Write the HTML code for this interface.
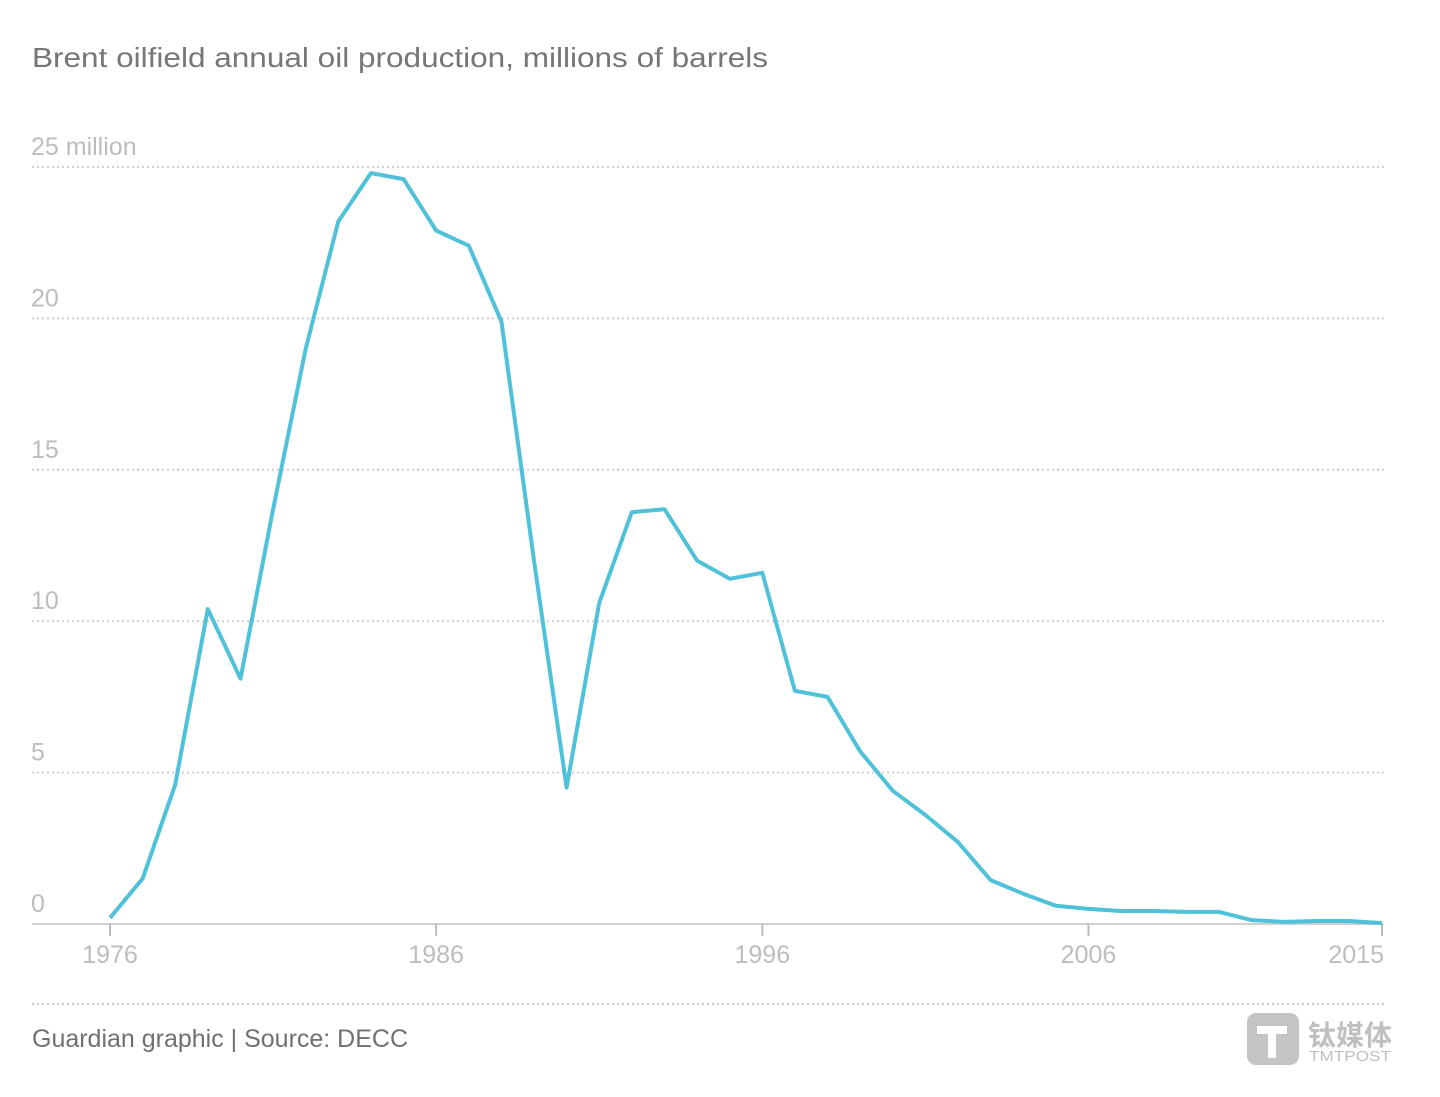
<!DOCTYPE html>
<html><head><meta charset="utf-8"><style>
body{margin:0;background:#fff;width:1440px;height:1092px;overflow:hidden;font-family:"Liberation Sans","Noto Sans CJK SC",sans-serif}
</style></head><body>
<svg id="chart" width="1440" height="1092" xmlns="http://www.w3.org/2000/svg">
<text x="32" y="67" font-size="28" fill="#767676" textLength="736" lengthAdjust="spacingAndGlyphs">Brent oilfield annual oil production, millions of barrels</text>
<g id="grid"></g>
<g id="xaxis"></g>
<path id="line" fill="none" stroke="#4fc1d9" stroke-width="4" stroke-linejoin="round"/>
<line x1="32" y1="1004" x2="1384" y2="1004" stroke="#c8c8c8" stroke-width="2" stroke-dasharray="2,3"/>
<text x="32" y="1047" font-size="25" fill="#707070" textLength="376" lengthAdjust="spacingAndGlyphs">Guardian graphic | Source: DECC</text>
<g>
<rect x="1247" y="1013" width="52" height="52" rx="9" fill="#c4c4c4"/>
<path d="M1257 1026 h30 v8 h-11 v24 h-8 v-24 h-11z" fill="#fff"/>
<text x="1308" y="1045" font-size="28" fill="#c0c0c0" font-family="Noto Sans CJK SC, sans-serif" font-weight="bold">钛媒体</text>
<text x="1309" y="1061" font-size="15" fill="#c0c0c0" textLength="82" lengthAdjust="spacingAndGlyphs">TMTPOST</text>
</g>
</svg>
<script>
const years=[1976,1977,1978,1979,1980,1981,1982,1983,1984,1985,1986,1987,1988,1989,1990,1991,1992,1993,1994,1995,1996,1997,1998,1999,2000,2001,2002,2003,2004,2005,2006,2007,2008,2009,2010,2011,2012,2013,2014,2015];
const production=[0.2,1.5,4.6,10.4,8.1,13.7,19.0,23.2,24.8,24.6,22.9,22.4,19.9,12.0,4.5,10.6,13.6,13.7,12.0,11.4,11.6,7.7,7.5,5.7,4.4,3.6,2.7,1.45,1.0,0.6,0.5,0.43,0.43,0.4,0.4,0.13,0.07,0.1,0.1,0.03];
const yTicks=[0,5,10,15,20,25];
const yTickLabels=["0","5","10","15","20","25 million"];
const xTicks=[1976,1986,1996,2006,2015];
const NS="http://www.w3.org/2000/svg";
const x=v=>110+(v-1976)*(1382-110)/39;
const y=v=>924-v*(924-167)/25;
function mk(tag,attrs,parent){const e=document.createElementNS(NS,tag);for(const k in attrs)e.setAttribute(k,attrs[k]);parent.appendChild(e);return e;}
const grid=document.getElementById('grid');
yTicks.forEach((t,i)=>{
  if(t>0){const l=mk('line',{x1:32,x2:1384,y1:y(t),y2:y(t),stroke:'#cfcfcf','stroke-width':2,'stroke-dasharray':'2,3'},grid);
  
  }
  const tx=mk('text',{x:31,y:y(t)-12,'font-size':25,fill:'#bdbdbd'},grid);
  
  
  tx.textContent=yTickLabels[i];
});
const xa=document.getElementById('xaxis');
const base=mk('line',{x1:32,x2:1384,y1:924,y2:924,stroke:'#d0d0d0','stroke-width':2},xa);


xTicks.forEach(t=>{
  const tk=mk('line',{x1:x(t),x2:x(t),y1:924,y2:936,stroke:'#bdbdbd','stroke-width':2},xa);
  
  
  const tx=mk('text',{x:t===2015?x(t)+2:x(t),y:963,'font-size':25,fill:'#bdbdbd','text-anchor':t===2015?'end':'middle'},xa);
  
  
  tx.textContent=t;
});
document.getElementById('line').setAttribute('d',years.map((yr,i)=>(i?'L':'M')+x(yr).toFixed(1)+' '+y(production[i]).toFixed(1)).join(' '));
</script>
</body></html>
